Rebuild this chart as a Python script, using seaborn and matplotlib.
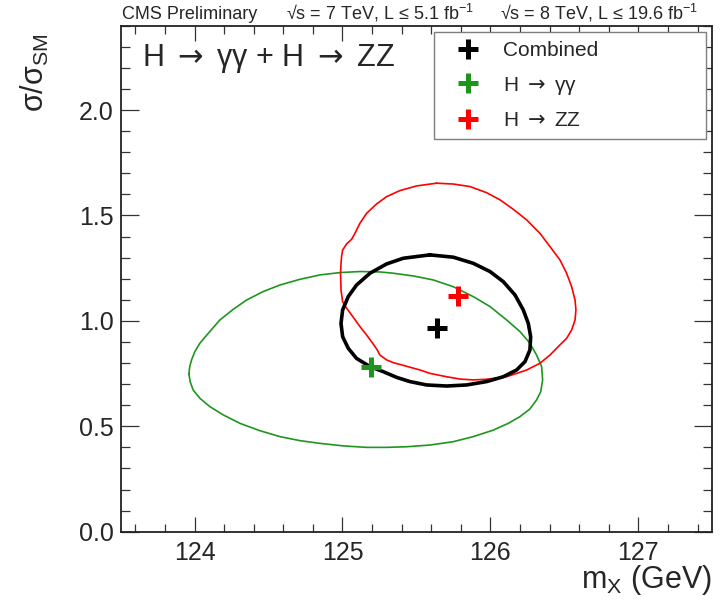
import numpy as np
import matplotlib
matplotlib.use("Agg")
import matplotlib.pyplot as plt
from matplotlib.lines import Line2D
from matplotlib.ticker import MultipleLocator
import seaborn as sns

# Best-fit points: Higgs mass (GeV) and signal strength sigma/sigma_SM
fit_names = ["Combined", r"H $\mathsf{\rightarrow}$ γγ", r"H $\mathsf{\rightarrow}$ ZZ"]
fit_mass = [125.64, 125.19, 125.78]
fit_mu = [0.965, 0.780, 1.118]
fit_colors = ["#000000", "#1e961e", "#ff0000"]

# 68% CL contour, combined
comb_mass = [125.591, 125.749, 125.884, 125.997, 126.087, 126.166, 126.222, 126.256,
             126.272, 126.267, 126.234, 126.177, 126.087, 125.974, 125.839, 125.704,
             125.569, 125.456, 125.366, 125.276, 125.186, 125.095, 125.039, 125.001,
             124.990, 125.001, 125.039, 125.095, 125.186, 125.298, 125.411]
comb_mu = [1.313, 1.302, 1.273, 1.234, 1.186, 1.123, 1.052, 0.988,
           0.925, 0.862, 0.807, 0.767, 0.735, 0.712, 0.696, 0.691,
           0.696, 0.712, 0.732, 0.759, 0.783, 0.822, 0.870, 0.925,
           0.988, 1.052, 1.115, 1.170, 1.226, 1.270, 1.297]

# 68% CL contour, H -> gamma gamma
gg_mass = [123.962, 123.968, 123.980, 124.002, 124.036, 124.093, 124.171, 124.262,
           124.352, 124.464, 124.577, 124.712, 124.848, 124.983, 125.118, 125.253,
           125.343, 125.479, 125.614, 125.749, 125.884, 125.997, 126.110, 126.200,
           126.267, 126.312, 126.346, 126.353, 126.340, 126.312, 126.267, 126.200,
           126.121, 126.020, 125.884, 125.749, 125.591, 125.434, 125.299, 125.163,
           125.005, 124.848, 124.712, 124.577, 124.442, 124.307, 124.194, 124.104,
           124.036, 123.991, 123.971]
gg_mu = [0.748, 0.785, 0.815, 0.854, 0.894, 0.941, 1.004, 1.055,
         1.099, 1.139, 1.170, 1.197, 1.218, 1.229, 1.234, 1.232,
         1.226, 1.213, 1.194, 1.162, 1.115, 1.068, 1.004, 0.949,
         0.894, 0.838, 0.783, 0.720, 0.664, 0.625, 0.582, 0.546,
         0.514, 0.482, 0.451, 0.427, 0.411, 0.403, 0.400, 0.400,
         0.407, 0.419, 0.432, 0.451, 0.479, 0.514, 0.554, 0.593,
         0.633, 0.672, 0.710]

# 68% CL contour, H -> ZZ
zz_mass = [125.636, 125.749, 125.862, 125.974, 126.065, 126.155, 126.245, 126.335,
           126.403, 126.470, 126.515, 126.549, 126.572, 126.578, 126.572, 126.549,
           126.515, 126.470, 126.403, 126.335, 126.245, 126.110, 125.974, 125.884,
           125.794, 125.704, 125.591, 125.524, 125.411, 125.343, 125.298, 125.253,
           125.235, 125.208, 125.163, 125.118, 125.073, 125.028, 125.001, 124.990,
           124.987, 124.990, 124.994, 125.001, 125.028, 125.062, 125.084, 125.118,
           125.163, 125.231, 125.298, 125.388, 125.501]
zz_mu = [1.653, 1.649, 1.637, 1.608, 1.574, 1.529, 1.479, 1.415,
         1.352, 1.289, 1.226, 1.162, 1.099, 1.052, 1.004, 0.957,
         0.917, 0.886, 0.838, 0.799, 0.767, 0.735, 0.723, 0.720,
         0.724, 0.735, 0.751, 0.767, 0.789, 0.802, 0.815, 0.838,
         0.862, 0.890, 0.933, 0.973, 1.017, 1.060, 1.091, 1.147,
         1.226, 1.273, 1.305, 1.336, 1.365, 1.387, 1.415, 1.463,
         1.510, 1.555, 1.589, 1.618, 1.640]

x_ticks = [124, 125, 126, 127]
y_ticks = [0.0, 0.5, 1.0, 1.5, 2.0]

sns.set_style("ticks")
plt.rcParams["font.family"] = ["Liberation Sans", "DejaVu Sans"]
plt.rcParams["mathtext.fontset"] = "custom"
plt.rcParams["mathtext.rm"] = "Liberation Sans"
plt.rcParams["mathtext.it"] = "Liberation Sans:italic"
plt.rcParams["mathtext.sf"] = "DejaVu Sans"

fig = plt.figure(figsize=(7.22, 6.06), dpi=100)
ax = fig.add_axes([0.167, 0.1226, 0.8196, 0.835])


def closed(xs, ys):
    return np.append(xs, xs[0]), np.append(ys, ys[0])


contours = [(gg_mass, gg_mu, fit_colors[1], 1.2),
            (zz_mass, zz_mu, fit_colors[2], 1.2),
            (comb_mass, comb_mu, fit_colors[0], 2.6)]
for xs, ys, col, lw in contours:
    cx, cy = closed(xs, ys)
    sns.lineplot(x=cx, y=cy, sort=False, estimator=None, color=col, lw=lw,
                 ax=ax, solid_joinstyle="round", solid_capstyle="round")

for m, mu, col in zip(fit_mass, fit_mu, fit_colors):
    sns.scatterplot(x=[m], y=[mu], marker="+", s=200, linewidth=3.6,
                    color=col, ax=ax, zorder=6, legend=False)

ax.set_xlim(123.5, 127.5)
ax.set_ylim(0, 2.4)
ax.set_xticks(x_ticks)
ax.set_yticks(y_ticks)
ax.set_yticklabels([f"{v:.1f}" for v in y_ticks])
ax.xaxis.set_minor_locator(MultipleLocator(0.2))
ax.yaxis.set_minor_locator(MultipleLocator(0.1))
ax.tick_params(which="both", direction="in", top=True, right=True,
               width=0.9, color="#333333")
ax.tick_params(axis="x", which="major", length=11, labelsize=18, pad=7)
ax.tick_params(axis="x", which="minor", length=6)
ax.tick_params(axis="y", which="major", length=13, labelsize=18, pad=5)
ax.tick_params(axis="y", which="minor", length=6.5)
for sp in ax.spines.values():
    sp.set_linewidth(1.3)
    sp.set_color("#222222")

ax.set_xlabel(r"m$_{\mathrm{X}}$ (GeV)", fontsize=22, loc="right")
ax.xaxis.set_label_coords(1.0, -0.062)
ax.set_ylabel(r"σ/σ$_{\mathrm{SM}}$", fontsize=22, loc="top")
ax.yaxis.set_label_coords(-0.118, 0.985)

ax.text(0.0355, 0.92, r"H $\mathsf{\rightarrow}$ γγ + H $\mathsf{\rightarrow}$ ZZ",
        transform=ax.transAxes, fontsize=22, va="baseline", ha="left")

handles = [Line2D([], [], ls="none", marker="+", ms=14, mew=3.6, color=c)
           for c in fit_colors]
leg = ax.legend(handles, fit_names, loc="upper left",
                bbox_to_anchor=(0.530, 0.5, 0.459, 0.488), mode="expand",
                borderaxespad=0, fontsize=15, borderpad=0.45,
                handlelength=2.39, handletextpad=0.45, labelspacing=0.69,
                fancybox=False, framealpha=1)
leg.get_frame().set_edgecolor("#7f7f7f")
leg.get_frame().set_linewidth(1.0)

# header line along the top edge
top_y = 1 - 19 / 606
fig.text(122 / 722, top_y, "CMS Preliminary", fontsize=13, va="baseline")
fig.text(286 / 722, top_y, r"√s = 7 TeV, L ≤ 5.1 fb$^{-1}$", fontsize=13, va="baseline")
fig.text(500 / 722, top_y, r"√s = 8 TeV, L ≤ 19.6 fb$^{-1}$", fontsize=13, va="baseline")

fig.savefig("out.png", dpi=100)
